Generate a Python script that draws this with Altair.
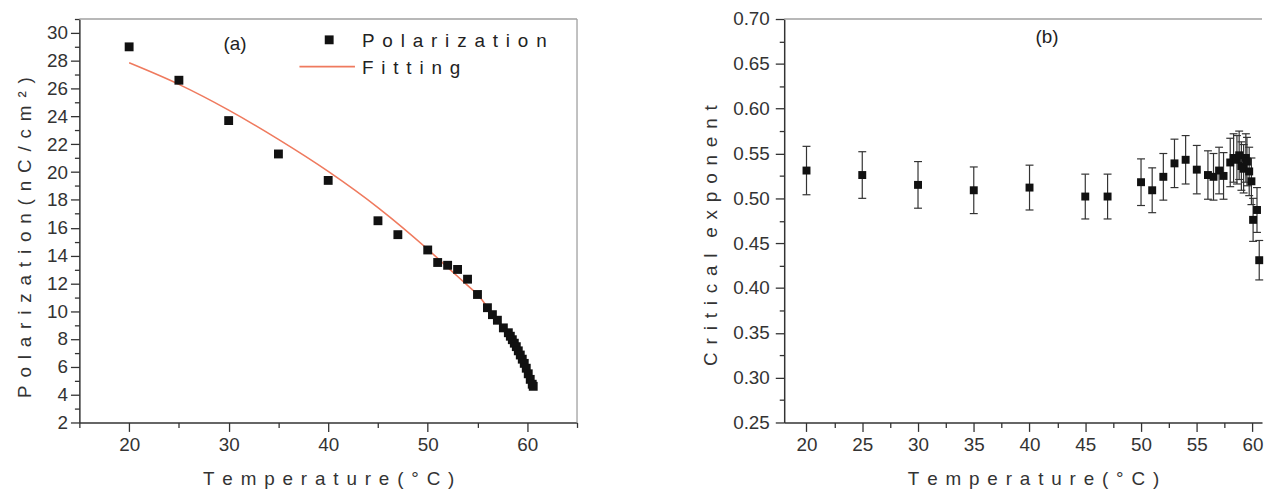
import altair as alt
import pandas as pd

FONT = "Liberation Sans"
SP = "\u2004\u200a"


def spaced(s):
    return SP.join(s)


# ---------------- Panel (a): polarization vs temperature ----------------
pol_temp = [20, 25, 30, 35, 40, 45, 47, 50, 51, 52, 53, 54, 55, 56, 56.5, 57,
            57.6, 58.1, 58.3, 58.5, 58.7, 58.9, 59.1, 59.3, 59.5, 59.7, 59.9,
            60.1, 60.3, 60.5, 60.6]
pol_value = [29.0, 26.6, 23.7, 21.3, 19.4, 16.5, 15.5, 14.4, 13.5, 13.3, 13.0,
             12.3, 11.2, 10.25, 9.75, 9.35, 8.8, 8.45, 8.2, 7.95, 7.7, 7.45,
             7.15, 6.85, 6.55, 6.25, 5.9, 5.5, 5.1, 4.75, 4.6]
fit_temp = [20, 25, 30, 35, 40, 45, 50, 52, 54, 55, 56, 57, 58, 59, 59.5, 60,
            60.3, 60.6]
fit_value = [27.85, 26.3, 24.45, 22.35, 20.05, 17.45, 14.45, 13.15, 11.85, 11.2,
             10.3, 9.35, 8.5, 7.3, 6.65, 5.8, 5.2, 4.6]

# ---------------- Panel (b): critical exponent vs temperature -----------
exp_temp = [20, 25, 30, 35, 40, 45, 47, 50, 51, 52, 53, 54, 55, 56, 56.5, 57,
            57.4, 58.0, 58.3, 58.6, 58.8, 59.0, 59.2, 59.4, 59.5, 59.7, 59.9,
            60.05, 60.4, 60.6]
exp_value = [0.531, 0.526, 0.515, 0.509, 0.512, 0.502, 0.502, 0.518, 0.509,
             0.524, 0.539, 0.543, 0.532, 0.526, 0.524, 0.531, 0.525, 0.540,
             0.545, 0.543, 0.548, 0.536, 0.533, 0.545, 0.541, 0.530, 0.519,
             0.476, 0.487, 0.431]
exp_error = [0.027, 0.026, 0.026, 0.026, 0.025, 0.025, 0.025, 0.026, 0.025,
             0.026, 0.027, 0.027, 0.027, 0.027, 0.026, 0.026, 0.026, 0.027,
             0.027, 0.027, 0.027, 0.027, 0.027, 0.027, 0.027, 0.027, 0.026,
             0.024, 0.025, 0.022]

# tick values (major + minor)
a_x_ticks = [15, 20, 25, 30, 35, 40, 45, 50, 55, 60, 65]
a_y_ticks = [2, 3, 4, 5, 6, 7, 8, 9, 10, 11, 12, 13, 14, 15, 16, 17, 18, 19,
             20, 21, 22, 23, 24, 25, 26, 27, 28, 29, 30, 31]
b_x_ticks = [20, 22.5, 25, 27.5, 30, 32.5, 35, 37.5, 40, 42.5, 45, 47.5, 50,
             52.5, 55, 57.5, 60]
b_y_ticks = [0.25, 0.275, 0.3, 0.325, 0.35, 0.375, 0.4, 0.425, 0.45, 0.475,
             0.5, 0.525, 0.55, 0.575, 0.6, 0.625, 0.65, 0.675, 0.7]

FIT_COLOR = "#EF7A5E"
INK = "#222222"
BORDER = "#A0A0A0"

W_A, H_A = 502, 407
W_B, H_B = 482, 407

df_pol = pd.DataFrame({"temp": pol_temp, "val": pol_value})
df_fit = pd.DataFrame({"temp": fit_temp, "val": fit_value})
df_exp = pd.DataFrame({"temp": exp_temp, "val": exp_value, "err": exp_error})


def cond(test, major, minor):
    return {"condition": {"test": test, "value": major}, "value": minor}


ax_xa = alt.Axis(values=a_x_ticks, format="d",
                 labelExpr="datum.value % 10 === 0 ? datum.label : ''",
                 tickSize=cond("datum.value % 10 === 0", 9, 5),
                 labelPadding=4, titlePadding=16, labelOverlap=False,
                 labelFlush=False, title=spaced("Temperature(°C)"))
ax_ya = alt.Axis(values=a_y_ticks, format="d",
                 labelExpr="datum.value % 2 === 0 ? datum.label : ''",
                 tickSize=cond("datum.value % 2 === 0", 9, 5),
                 labelPadding=3, titlePadding=12, titleY=220, labelOverlap=False,
                 labelFlush=False, title=spaced("Polarization(nC/cm²)"))
ax_xb = alt.Axis(values=b_x_ticks, format="d",
                 labelExpr="datum.value % 5 === 0 ? datum.label : ''",
                 tickSize=cond("datum.value % 5 === 0", 9, 5),
                 labelPadding=4, titlePadding=16, titleX=251, labelOverlap=False,
                 labelFlush=False, title=spaced("Temperature(°C)"))
ax_yb = alt.Axis(values=b_y_ticks, format=".2f",
                 labelExpr="round(datum.value * 1000) % 50 === 0 ? datum.label : ''",
                 tickSize=cond("round(datum.value * 1000) % 50 === 0", 9, 5),
                 labelPadding=6, titlePadding=12, titleY=218, labelOverlap=False,
                 labelFlush=False,
                 title=spaced("Critical") + "\u2002\u2004" + spaced("exponent"))


def xa(field="temp"):
    return alt.X(f"{field}:Q", scale=alt.Scale(domain=[15, 65], nice=False, zero=False), axis=ax_xa)


def ya(field="val"):
    return alt.Y(f"{field}:Q", scale=alt.Scale(domain=[2, 31], nice=False, zero=False), axis=ax_ya)


def xb(field="temp"):
    return alt.X(f"{field}:Q", scale=alt.Scale(domain=[18, 60.85], nice=False, zero=False), axis=ax_xb)


def yb(field="val"):
    return alt.Y(f"{field}:Q", scale=alt.Scale(domain=[0.25, 0.70], nice=False, zero=False), axis=ax_yb)


one = pd.DataFrame({"k": [0]})

# ----- panel (a) layers
fit_line = alt.Chart(df_fit).mark_line(color=FIT_COLOR, strokeWidth=1.6, interpolate="monotone").encode(
    x=xa(), y=ya())
pol_pts = alt.Chart(df_pol).mark_square(size=80, color="#111111", opacity=1).encode(x=xa(), y=ya())
top_a = alt.Chart(one).mark_rule(color=BORDER, strokeWidth=1.3).encode(
    x=alt.value(0), x2=alt.value(W_A), y=alt.value(0))
right_a = alt.Chart(one).mark_rule(color=BORDER, strokeWidth=1.3).encode(
    x=alt.value(W_A), y=alt.value(0), y2=alt.value(H_A))
lab_a = alt.Chart(pd.DataFrame({"t": ["(a)"]})).mark_text(
    font=FONT, fontSize=19, color=INK).encode(text="t:N", x=alt.value(157), y=alt.value(25))
leg_sq = alt.Chart(one).mark_square(size=80, color="#111111", opacity=1).encode(
    x=alt.value(252), y=alt.value(21))
leg_t1 = alt.Chart(pd.DataFrame({"t": [spaced("Polarization")]})).mark_text(
    font=FONT, fontSize=19, color=INK, align="left", baseline="middle").encode(
    text="t:N", x=alt.value(285), y=alt.value(22))
leg_ln = alt.Chart(one).mark_rule(color=FIT_COLOR, strokeWidth=1.6).encode(
    x=alt.value(222), x2=alt.value(278), y=alt.value(48))
leg_t2 = alt.Chart(pd.DataFrame({"t": [spaced("Fitting")]})).mark_text(
    font=FONT, fontSize=19, color=INK, align="left", baseline="middle").encode(
    text="t:N", x=alt.value(285), y=alt.value(49))

left = alt.layer(fit_line, pol_pts, top_a, right_a, lab_a, leg_sq, leg_t1, leg_ln, leg_t2).properties(
    width=W_A, height=H_A)

# ----- panel (b) layers
base_b = alt.Chart(df_exp).transform_calculate(
    lo="datum.val - datum.err", hi="datum.val + datum.err")
err_rule = base_b.mark_rule(color="#333333", strokeWidth=1.2).encode(
    x=xb(), y=yb("lo"), y2="hi:Q")
cap_lo = base_b.mark_rule(color="#333333", strokeWidth=1.2, xOffset=-4, x2Offset=4).encode(
    x=xb(), x2="temp:Q", y=yb("lo"))
cap_hi = base_b.mark_rule(color="#333333", strokeWidth=1.2, xOffset=-4, x2Offset=4).encode(
    x=xb(), x2="temp:Q", y=yb("hi"))
exp_pts = alt.Chart(df_exp).mark_square(size=64, color="#111111", opacity=1).encode(x=xb(), y=yb())
top_b = alt.Chart(one).mark_rule(color=BORDER, strokeWidth=1.3).encode(
    x=alt.value(0), x2=alt.value(W_B), y=alt.value(0))
lab_b = alt.Chart(pd.DataFrame({"t": ["(b)"]})).mark_text(
    font=FONT, fontSize=19, color=INK).encode(text="t:N", x=alt.value(265), y=alt.value(18))

right = alt.layer(err_rule, cap_lo, cap_hi, exp_pts, top_b, lab_b).properties(width=W_B, height=H_B)

chart = alt.hconcat(left, right, spacing=125).properties(
    padding={"left": 7, "top": 0, "right": 0, "bottom": 0}
).configure_view(strokeWidth=0).configure_axis(
    grid=False, domainColor="#333333", domainWidth=1.5, tickColor="#333333", tickWidth=1.3,
    labelFont=FONT, labelFontSize=19, labelColor="#333333",
    titleFont=FONT, titleFontSize=19, titleFontWeight="normal", titleColor="#333333")

chart.save("out.html", embed_options={"renderer": "svg", "actions": False})
